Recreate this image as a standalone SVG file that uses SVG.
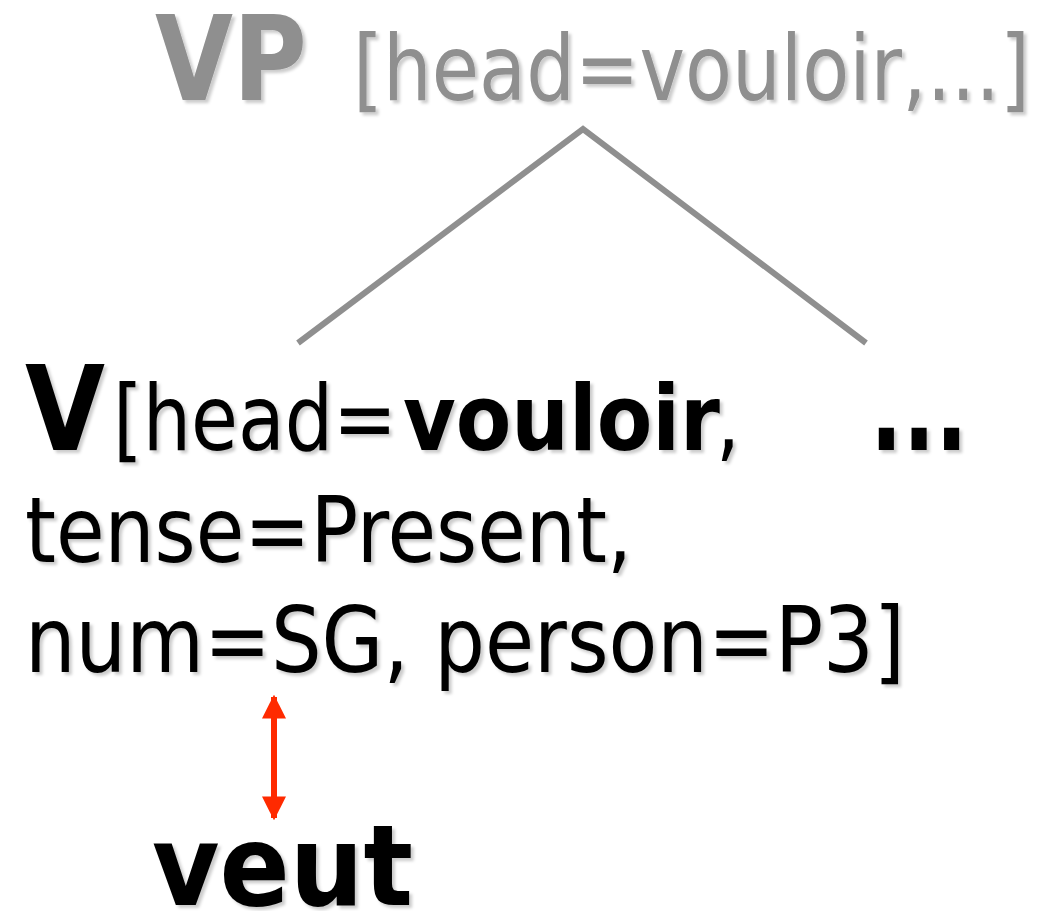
<svg xmlns="http://www.w3.org/2000/svg" width="1043" height="911" viewBox="0 0 1043 911">
  <defs>
    <filter id="sh" x="-10%" y="-10%" width="130%" height="140%">
      <feDropShadow dx="3" dy="3" stdDeviation="1.5" flood-color="#000" flood-opacity="0.2"/>
    </filter>
    <marker id="ah" viewBox="0 0 10 10" refX="9" refY="5" markerWidth="4" markerHeight="4" orient="auto-start-reverse" markerUnits="strokeWidth">
      <path d="M0,0 L10,5 L0,10 Z" fill="#ff2a00"/>
    </marker>
  </defs>
  <style>
    text { font-family: "DejaVu Sans", Verdana, sans-serif; }
    .b { font-weight: bold; }
    .gray { fill: #8f8f8f; }
    .blk { fill: #000; }
    .tree { stroke: #8f8f8f; stroke-width: 6; fill: none; }
  </style>
  <rect width="1043" height="911" fill="#fff"/>

  <g id="connectors">
    <polyline class="tree" points="298,343 583,129 866,343"/>
    <line x1="274" y1="697" x2="274" y2="818" stroke="#ff2a00" stroke-width="6" marker-start="url(#ah)" marker-end="url(#ah)"/>
  </g>

  <g id="node-vp" filter="url(#sh)">
    <text class="b gray" x="155" y="100" font-size="118" textLength="152" lengthAdjust="spacingAndGlyphs">VP</text>
    <text class="gray" x="353" y="100" font-size="90" textLength="677" lengthAdjust="spacingAndGlyphs">[head=vouloir,...]</text>
  </g>

  <g id="node-v" filter="url(#sh)">
    <text class="blk" y="450" font-size="90"><tspan class="b" x="25" font-size="117" textLength="80" lengthAdjust="spacingAndGlyphs">V</tspan><tspan x="113" textLength="284" lengthAdjust="spacingAndGlyphs">[head=</tspan><tspan class="b" x="403" textLength="317" lengthAdjust="spacingAndGlyphs">vouloir</tspan><tspan x="716" textLength="24" lengthAdjust="spacingAndGlyphs">,</tspan></text>
    <text class="blk" x="25" y="562" font-size="90" textLength="607" lengthAdjust="spacingAndGlyphs">tense=Present,</text>
    <text class="blk" x="25" y="672" font-size="90" textLength="880" lengthAdjust="spacingAndGlyphs">num=SG, person=P3]</text>
  </g>

  <g id="node-dots" filter="url(#sh)">
    <text class="b blk" x="870" y="450" font-size="117" textLength="98" lengthAdjust="spacingAndGlyphs">...</text>
  </g>

  <g id="node-veut" filter="url(#sh)">
    <text class="b blk" x="152" y="905" font-size="113" textLength="261" lengthAdjust="spacingAndGlyphs">veut</text>
  </g>
</svg>
